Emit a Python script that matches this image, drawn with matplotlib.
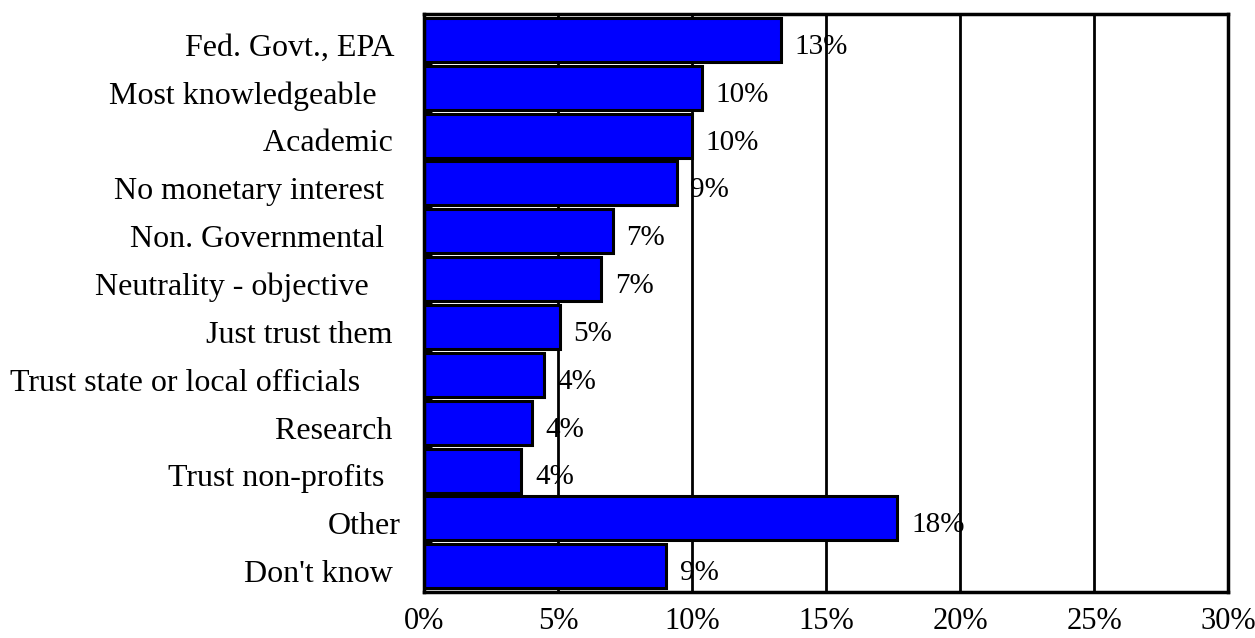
import matplotlib.pyplot as plt
from matplotlib.ticker import FixedLocator, PercentFormatter
from matplotlib.transforms import ScaledTranslation

# reasons given for trusting the source, share of respondents (%)
reasons = [
    'Fed. Govt., EPA ',
    'Most knowledgeable   ',
    'Academic ',
    'No monetary interest  ',
    'Non. Governmental  ',
    'Neutrality - objective    ',
    'Just trust them ',
    'Trust state or local officials     ',
    'Research ',
    'Trust non-profits  ',
    'Other',
    "Don't know ",
]
shares = [13.3, 10.35, 9.98, 9.42, 7.03, 6.6, 5.05, 4.47, 4.02, 3.63, 17.65, 9.03]
share_labels = ['13%', '10%', '10%', '9%', '7%', '7%', '5%', '4%', '4%', '4%', '18%', '9%']
x_ticks = [0, 5, 10, 15, 20, 25, 30]

plt.rcParams['font.family'] = ['Liberation Serif', 'DejaVu Serif']
plt.rcParams['font.size'] = 21

fig = plt.figure(figsize=(12.55, 6.38), dpi=100)
ax = fig.add_axes([0.338, 0.072, 0.6405, 0.906])

pos = list(range(len(reasons)))

# vertical grid at every 5%, behind the bars
for t in x_ticks[1:-1]:
    ax.axvline(t, color='black', lw=2, zorder=1)

ax.barh(pos, shares, height=0.92, color='#0000ff', edgecolor='black',
        linewidth=2.2, zorder=2)

for y, v, lab in zip(pos, shares, share_labels):
    ax.annotate(lab, xy=(v, y), xytext=(10, -5), textcoords='offset points',
                va='center', ha='left', fontsize=21, zorder=3)

ax.set_xlim(0, 30)
ax.set_ylim(len(reasons) - 0.46, -0.54)

ax.set_xticks(x_ticks)
ax.xaxis.set_major_formatter(PercentFormatter(decimals=0))
ax.tick_params(axis='x', length=0, pad=11, labelsize=22)

ax.set_yticks(pos)
ax.set_yticklabels(reasons)
ax.tick_params(axis='y', which='major', length=0, pad=17, labelsize=23)
# category names sit a little below the bar centres
shift = ScaledTranslation(0, -3.5 / 72, fig.dpi_scale_trans)
for lbl in ax.get_yticklabels():
    lbl.set_transform(lbl.get_transform() + shift)

# small inward marks between categories
ax.yaxis.set_minor_locator(FixedLocator([p + 0.5 for p in pos[:-1]]))
ax.tick_params(axis='y', which='minor', direction='in', length=6, width=2)

for s in ax.spines.values():
    s.set_linewidth(2.5)
    s.set_zorder(4)

fig.savefig('out.png', dpi=100)
